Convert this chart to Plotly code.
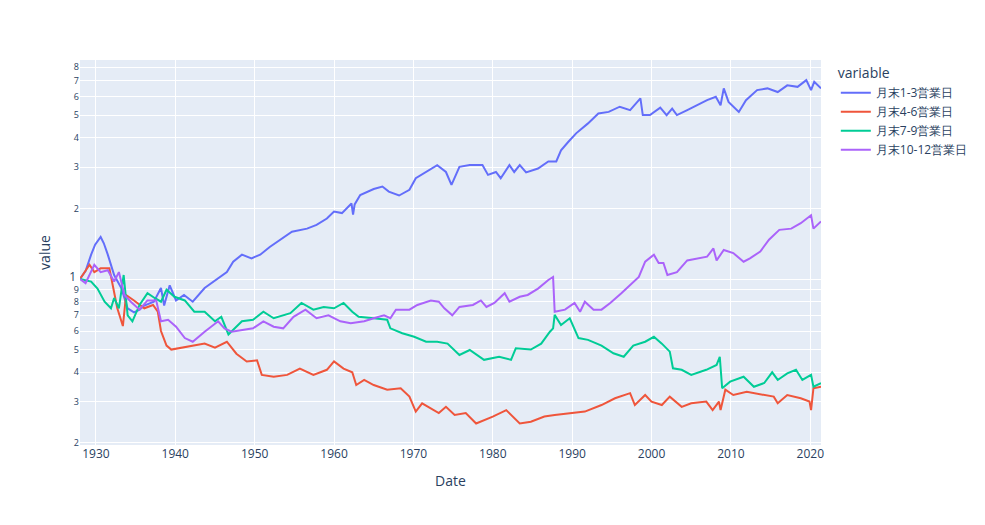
import pandas as pd
import plotly.graph_objects as go

# ---- data (decimal year, value) ----
names = ["月末1-3営業日", "月末4-6営業日", "月末7-9営業日", "月末10-12営業日"]
colors = ["#636efa", "#EF553B", "#00cc96", "#ab63fa"]

blue_t = [1928.0, 1928.7, 1929.4, 1929.9, 1930.6, 1931.0, 1931.5, 1932.3, 1933.2, 1934.0,
          1934.8, 1935.5, 1936.1, 1937.3, 1938.2, 1938.6, 1939.3, 1940.1, 1941.1, 1942.2,
          1943.7, 1945.4, 1946.5, 1947.3, 1948.4, 1949.6, 1950.7, 1951.9, 1953.2, 1954.7,
          1956.6, 1957.8, 1959.1, 1960.0, 1961.0, 1962.2, 1962.4, 1962.6, 1963.3, 1965.0,
          1966.1, 1966.9, 1968.2, 1969.5, 1970.3, 1971.6, 1973.0, 1974.1, 1974.8, 1975.8,
          1977.1, 1978.7, 1979.4, 1980.4, 1981.0, 1982.1, 1982.7, 1983.4, 1984.2, 1985.7,
          1987.0, 1988.0, 1988.6, 1989.5, 1990.5, 1992.0, 1993.3, 1994.6, 1996.0, 1997.3,
          1998.6, 1998.9, 1999.8, 2001.1, 2001.9, 2002.6, 2003.2, 2004.5, 2005.7, 2007.0,
          2008.1, 2008.7, 2009.1, 2009.7, 2011.0, 2011.9, 2013.3, 2014.6, 2015.9, 2017.1,
          2018.4, 2019.5, 2020.1, 2020.5, 2021.35]
blue_v = [1.0, 1.08, 1.27, 1.40, 1.51, 1.42, 1.27, 1.04, 0.915, 0.75,
          0.72, 0.74, 0.77, 0.80, 0.915, 0.77, 0.94, 0.81, 0.855, 0.80,
          0.915, 1.01, 1.07, 1.185, 1.27, 1.225, 1.27, 1.37, 1.47, 1.59,
          1.64, 1.70, 1.81, 1.94, 1.91, 2.10, 1.88, 2.08, 2.28, 2.42,
          2.48, 2.36, 2.27, 2.40, 2.69, 2.86, 3.06, 2.86, 2.52, 3.01,
          3.06, 3.06, 2.78, 2.86, 2.69, 3.06, 2.86, 3.06, 2.85, 2.96,
          3.17, 3.17, 3.54, 3.84, 4.18, 4.61, 5.08, 5.16, 5.43, 5.25,
          5.89, 5.0, 5.0, 5.38, 5.0, 5.33, 5.0, 5.25, 5.51, 5.79,
          5.99, 5.51, 6.5, 5.69, 5.16, 5.79, 6.39, 6.5, 6.27, 6.7,
          6.6, 7.05, 6.39, 6.93, 6.5]

red_t = [1928.0, 1929.2, 1929.8, 1930.6, 1931.7, 1932.3, 1932.7, 1933.4, 1933.8, 1934.8,
         1936.1, 1937.2, 1937.8, 1938.2, 1938.9, 1939.5, 1940.8, 1942.0, 1943.7, 1945.0,
         1946.5, 1947.7, 1949.0, 1950.3, 1950.9, 1952.4, 1954.1, 1955.7, 1957.4, 1959.1,
         1960.0, 1961.2, 1962.3, 1962.8, 1963.8, 1965.0, 1966.7, 1968.4, 1969.5, 1970.3,
         1971.1, 1973.2, 1974.1, 1975.2, 1976.6, 1977.9, 1980.0, 1981.7, 1983.4, 1984.8,
         1986.5, 1987.8, 1989.9, 1991.6, 1993.7, 1995.4, 1997.3, 1997.9, 1999.2, 2000.0,
         2001.3, 2002.3, 2003.8, 2005.0, 2006.9, 2007.7, 2008.5, 2008.7, 2009.3, 2010.3,
         2012.0, 2014.2, 2015.4, 2015.9, 2017.1, 2018.8, 2019.9, 2020.1, 2020.4, 2021.35]
red_v = [1.0, 1.15, 1.07, 1.11, 1.11, 0.88, 0.75, 0.63, 0.855, 0.81,
         0.75, 0.775, 0.725, 0.60, 0.52, 0.50, 0.51, 0.52, 0.53, 0.51,
         0.54, 0.48, 0.445, 0.45, 0.39, 0.383, 0.39, 0.415, 0.39, 0.41,
         0.445, 0.415, 0.40, 0.353, 0.371, 0.353, 0.337, 0.342, 0.315, 0.272,
         0.295, 0.268, 0.285, 0.263, 0.268, 0.242, 0.259, 0.276, 0.242, 0.246,
         0.259, 0.263, 0.268, 0.272, 0.29, 0.31, 0.326, 0.29, 0.32, 0.30,
         0.29, 0.315, 0.285, 0.295, 0.30, 0.276, 0.30, 0.276, 0.337, 0.32,
         0.33, 0.32, 0.315, 0.295, 0.32, 0.31, 0.30, 0.276, 0.342, 0.347]

green_t = [1928.0, 1929.4, 1930.2, 1931.1, 1931.9, 1932.3, 1932.9, 1933.5, 1934.0, 1934.6,
           1935.5, 1936.5, 1937.4, 1938.2, 1938.9, 1939.9, 1941.2, 1942.4, 1943.7, 1945.0,
           1945.8, 1946.7, 1948.4, 1949.8, 1951.1, 1952.4, 1954.5, 1955.9, 1957.4, 1958.7,
           1960.0, 1961.2, 1962.3, 1963.1, 1965.0, 1966.7, 1967.1, 1968.6, 1970.1, 1971.6,
           1973.0, 1974.3, 1975.8, 1977.1, 1978.9, 1980.8, 1982.3, 1982.9, 1984.8, 1986.1,
           1987.2, 1987.6, 1987.8, 1988.6, 1989.7, 1990.8, 1992.0, 1993.7, 1995.2, 1996.5,
           1997.7, 1999.2, 2000.3, 2001.3, 2002.3, 2002.7, 2003.8, 2005.0, 2006.9, 2008.2,
           2008.6, 2008.9, 2009.9, 2011.6, 2012.9, 2014.2, 2015.2, 2015.9, 2017.1, 2018.2,
           2019.0, 2020.1, 2020.4, 2021.35]
green_v = [1.0, 0.975, 0.91, 0.80, 0.75, 0.83, 0.75, 1.04, 0.70, 0.66,
           0.775, 0.87, 0.83, 0.80, 0.90, 0.84, 0.81, 0.725, 0.725, 0.66,
           0.69, 0.58, 0.66, 0.67, 0.725, 0.68, 0.715, 0.79, 0.74, 0.76,
           0.75, 0.79, 0.725, 0.69, 0.68, 0.67, 0.616, 0.587, 0.567, 0.54,
           0.54, 0.53, 0.474, 0.498, 0.452, 0.466, 0.452, 0.506, 0.50, 0.53,
           0.596, 0.616, 0.703, 0.636, 0.68, 0.56, 0.55, 0.52, 0.482, 0.466,
           0.52, 0.54, 0.567, 0.53, 0.49, 0.416, 0.41, 0.39, 0.41, 0.43,
           0.466, 0.342, 0.365, 0.383, 0.347, 0.36, 0.40, 0.371, 0.396, 0.41,
           0.371, 0.39, 0.347, 0.36]

purple_t = [1928.0, 1928.7, 1929.8, 1930.6, 1931.5, 1932.3, 1932.9, 1933.6, 1934.4, 1935.5,
            1936.5, 1937.6, 1938.2, 1939.1, 1940.1, 1941.2, 1942.2, 1943.7, 1945.4, 1946.2,
            1947.1, 1948.6, 1949.8, 1951.1, 1952.4, 1953.6, 1954.9, 1956.4, 1957.8, 1959.3,
            1960.8, 1962.1, 1963.8, 1965.0, 1966.3, 1967.1, 1967.8, 1969.5, 1970.5, 1972.2,
            1973.2, 1973.9, 1974.9, 1975.8, 1977.5, 1978.5, 1979.2, 1980.2, 1981.5, 1982.1,
            1983.4, 1984.4, 1985.7, 1987.0, 1987.6, 1987.8, 1989.1, 1990.3, 1991.0, 1991.6,
            1992.7, 1993.7, 1994.8, 1996.2, 1997.5, 1998.4, 1999.2, 2000.3, 2000.9, 2001.5,
            2002.0, 2003.2, 2004.5, 2005.7, 2007.0, 2007.8, 2008.2, 2009.1, 2010.3, 2011.6,
            2012.4, 2013.7, 2014.8, 2016.1, 2017.6, 2018.8, 2020.1, 2020.4, 2021.35]
purple_v = [1.0, 0.96, 1.15, 1.07, 1.09, 0.975, 1.07, 0.855, 0.80, 0.74,
            0.81, 0.81, 0.66, 0.67, 0.626, 0.56, 0.54, 0.596, 0.66, 0.616,
            0.596, 0.606, 0.616, 0.66, 0.626, 0.616, 0.69, 0.74, 0.68, 0.70,
            0.66, 0.647, 0.66, 0.68, 0.70, 0.68, 0.74, 0.74, 0.775, 0.81,
            0.80, 0.75, 0.70, 0.76, 0.775, 0.81, 0.76, 0.79, 0.87, 0.80,
            0.84, 0.855, 0.91, 0.99, 1.02, 0.725, 0.74, 0.79, 0.725, 0.80,
            0.74, 0.74, 0.79, 0.87, 0.96, 1.02, 1.185, 1.27, 1.17, 1.17,
            1.04, 1.07, 1.20, 1.225, 1.245, 1.35, 1.20, 1.33, 1.29, 1.185,
            1.225, 1.31, 1.47, 1.62, 1.64, 1.73, 1.87, 1.64, 1.76]

series_t = [blue_t, red_t, green_t, purple_t]
series_v = [blue_v, red_v, green_v, purple_v]


def to_dates(years):
    out = []
    for y in years:
        yi = int(y)
        out.append(pd.Timestamp(year=yi, month=1, day=1) + pd.Timedelta(days=(y - yi) * 365.25))
    return out


fig = go.Figure()
for name, col, t, v in zip(names, colors, series_t, series_v):
    fig.add_trace(go.Scatter(
        x=to_dates(t), y=v, mode="lines", name=name,
        legendgroup=name, showlegend=True,
        line=dict(color=col, width=2, dash="solid"),
        hovertemplate="variable=" + name + "<br>Date=%{x}<br>value=%{y}<extra></extra>",
    ))

fig.update_layout(
    template="plotly",
    width=985, height=525,
    margin=dict(t=60),
    legend=dict(title=dict(text="variable"), tracegroupgap=0),
    xaxis=dict(title=dict(text="Date")),
    yaxis=dict(title=dict(text="value"), type="log", range=[-0.708, 0.934]),
)

fig.write_html("out.html", config={"displayModeBar": False},
               post_script="document.body.style.margin='0';")
